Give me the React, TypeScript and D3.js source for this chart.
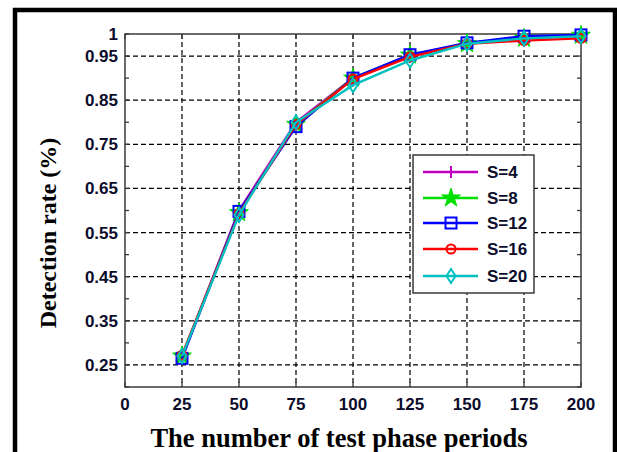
import React, { useEffect, useRef } from "react";
import * as d3 from "d3";

const X_VALUES = [25, 50, 75, 100, 125, 150, 175, 200];
const X_TICKS = [0, 25, 50, 75, 100, 125, 150, 175, 200];
const Y_LABEL_TICKS = [0.25, 0.35, 0.45, 0.55, 0.65, 0.75, 0.85, 0.95, 1];
const Y_MINOR_TICKS = [0.2, 0.25, 0.3, 0.35, 0.4, 0.45, 0.5, 0.55, 0.6, 0.65, 0.7, 0.75, 0.8, 0.85, 0.9, 0.95, 1];

const S4 = [0.27, 0.6, 0.8, 0.9, 0.95, 0.98, 0.99, 0.995];
const S8 = [0.27, 0.595, 0.795, 0.9, 0.952, 0.978, 0.99, 0.997];
const S12 = [0.265, 0.598, 0.79, 0.9, 0.953, 0.98, 0.995, 0.998];
const S16 = [0.272, 0.593, 0.795, 0.898, 0.948, 0.978, 0.985, 0.99];
const S20 = [0.27, 0.59, 0.8, 0.884, 0.94, 0.978, 0.99, 0.995];

const SERIES = [
  { name: "S=4", values: S4, color: "#c000c0", marker: "plus" },
  { name: "S=8", values: S8, color: "#00e000", marker: "star" },
  { name: "S=12", values: S12, color: "#0000ff", marker: "square" },
  { name: "S=16", values: S16, color: "#ff0000", marker: "circle" },
  { name: "S=20", values: S20, color: "#00c0c0", marker: "diamond" },
];

const W = 617;
const H = 452;
const M = { left: 125, right: 581, top: 34, bottom: 387 };

function drawMarker(g: any, type: string, cx: number, cy: number, color: string) {
  if (type === "plus") {
    g.append("path")
      .attr("d", `M${cx - 6},${cy}H${cx + 6}M${cx},${cy - 6}V${cy + 6}`)
      .attr("stroke", color).attr("stroke-width", 2).attr("fill", "none");
  } else if (type === "star") {
    g.append("path")
      .attr("d", d3.symbol(d3.symbolStar, 110)() as string)
      .attr("transform", `translate(${cx},${cy})`)
      .attr("fill", color).attr("stroke", color).attr("stroke-width", 1);
  } else if (type === "square") {
    g.append("rect")
      .attr("x", cx - 5.5).attr("y", cy - 5.5).attr("width", 11).attr("height", 11)
      .attr("fill", "none").attr("stroke", color).attr("stroke-width", 2);
  } else if (type === "circle") {
    g.append("circle")
      .attr("cx", cx).attr("cy", cy).attr("r", 4.5)
      .attr("fill", "none").attr("stroke", color).attr("stroke-width", 2);
  } else {
    g.append("path")
      .attr("d", `M${cx},${cy - 7}L${cx + 4.5},${cy}L${cx},${cy + 7}L${cx - 4.5},${cy}Z`)
      .attr("fill", "none").attr("stroke", color).attr("stroke-width", 2);
  }
}

function renderChart(svgEl: SVGSVGElement) {
  const svg = d3.select(svgEl);
  svg.selectAll("*").remove();

  const x = d3.scaleLinear().domain([0, 200]).range([M.left, M.right]);
  const y = d3.scaleLinear().domain([0.2, 1]).range([M.bottom, M.top]);
  const axisColor = "#3a3a3a";
  const labelFill = "#0c0c2c";
  const sans = "'Liberation Sans', Arial, sans-serif";
  const serif = "'Liberation Serif', 'Times New Roman', serif";

  svg.append("rect").attr("width", W).attr("height", H).attr("fill", "#fff");

  // Outer frame (open at the bottom)
  svg.append("path")
    .attr("d", `M15,${H + 5}V10H615V${H + 5}`)
    .attr("fill", "none").attr("stroke", "#000").attr("stroke-width", 4.5);

  // Grid
  const grid = svg.append("g").attr("stroke", "#000").attr("stroke-width", 1.2)
    .attr("stroke-dasharray", "5,3");
  X_TICKS.filter(d => d > 0 && d < 200).forEach(d => {
    grid.append("line").attr("x1", x(d)).attr("x2", x(d))
      .attr("y1", M.top).attr("y2", M.bottom);
  });
  Y_LABEL_TICKS.filter(d => d < 1).forEach(d => {
    grid.append("line").attr("x1", M.left).attr("x2", M.right)
      .attr("y1", y(d)).attr("y2", y(d));
  });

  // Ticks
  const ticks = svg.append("g").attr("stroke", axisColor).attr("stroke-width", 1.3);
  X_TICKS.forEach(d => {
    ticks.append("line").attr("x1", x(d)).attr("x2", x(d)).attr("y1", M.bottom).attr("y2", M.bottom - 5);
    ticks.append("line").attr("x1", x(d)).attr("x2", x(d)).attr("y1", M.top).attr("y2", M.top + 5);
  });
  Y_MINOR_TICKS.forEach(d => {
    ticks.append("line").attr("x1", M.left).attr("x2", M.left + 4).attr("y1", y(d)).attr("y2", y(d));
    ticks.append("line").attr("x1", M.right).attr("x2", M.right - 4).attr("y1", y(d)).attr("y2", y(d));
  });

  // Axes box
  svg.append("rect")
    .attr("x", M.left).attr("y", M.top)
    .attr("width", M.right - M.left).attr("height", M.bottom - M.top)
    .attr("fill", "none").attr("stroke", axisColor).attr("stroke-width", 1.5);

  // Tick labels
  X_TICKS.forEach(d => {
    svg.append("text")
      .attr("x", x(d)).attr("y", 410)
      .attr("text-anchor", "middle")
      .attr("font-family", sans).attr("font-weight", "bold").attr("font-size", 17)
      .attr("fill", labelFill)
      .text(String(d));
  });
  Y_LABEL_TICKS.forEach(d => {
    svg.append("text")
      .attr("x", M.left - 7).attr("y", y(d) + 6)
      .attr("text-anchor", "end")
      .attr("font-family", sans).attr("font-weight", "bold").attr("font-size", 17)
      .attr("fill", labelFill)
      .text(d === 1 ? "1" : d.toFixed(2));
  });

  // Axis titles
  svg.append("text")
    .attr("x", 339).attr("y", 447)
    .attr("text-anchor", "middle")
    .attr("font-family", serif)
    .attr("font-weight", "bold").attr("font-size", 26.5)
    .attr("fill", "#000")
    .text("The number of test phase periods");

  svg.append("text")
    .attr("transform", `translate(56,233) rotate(-90)`)
    .attr("text-anchor", "middle")
    .attr("font-family", serif)
    .attr("font-weight", "bold").attr("font-size", 24)
    .attr("fill", "#000")
    .text("Detection rate (%)");

  // Lines and markers
  const line = d3.line<number>()
    .x((_, i) => x(X_VALUES[i]))
    .y(v => y(v));

  SERIES.forEach(s => {
    svg.append("path")
      .attr("d", line(s.values) as string)
      .attr("fill", "none").attr("stroke", s.color).attr("stroke-width", 2.4);
    const mg = svg.append("g");
    s.values.forEach((v, i) => drawMarker(mg, s.marker, x(X_VALUES[i]), y(v), s.color));
  });

  // Legend
  const lg = svg.append("g");
  lg.append("rect")
    .attr("x", 413).attr("y", 155).attr("width", 121).attr("height", 138)
    .attr("fill", "#fff").attr("stroke", axisColor).attr("stroke-width", 1.5);
  const rowY = [172, 198, 223, 249, 276];
  SERIES.forEach((s, i) => {
    const ry = rowY[i];
    lg.append("line").attr("x1", 423).attr("x2", 478).attr("y1", ry).attr("y2", ry)
      .attr("stroke", s.color).attr("stroke-width", 2.4);
    drawMarker(lg, s.marker, 451, ry, s.color);
    lg.append("text")
      .attr("x", 487).attr("y", ry + 6)
      .attr("font-family", sans).attr("font-weight", "bold").attr("font-size", 17)
      .attr("fill", labelFill)
      .text(s.name);
  });
}

export default function App() {
  const svgRef = useRef<SVGSVGElement>(null);

  useEffect(() => {
    if (svgRef.current) renderChart(svgRef.current);
  }, []);

  return (
    <svg
      ref={svgRef}
      width={W}
      height={H}
      style={{ position: "absolute", left: 0, top: 0, display: "block" }}
    />
  );
}
